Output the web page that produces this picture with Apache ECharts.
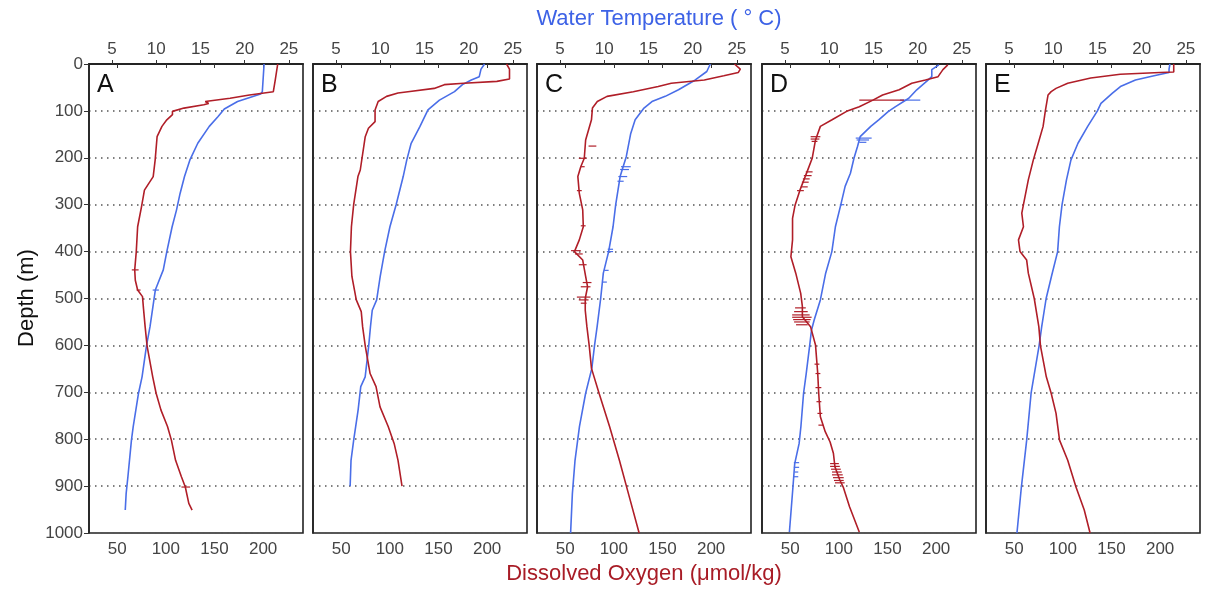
<!DOCTYPE html>
<html>
<head>
<meta charset="utf-8">
<script src="https://cdn.jsdelivr.net/npm/echarts@6/dist/echarts.min.js"></script>
<style>
  html, body { margin: 0; padding: 0; background: #fff; }
  #chart { width: 1208px; height: 593px; }
</style>
</head>
<body>
<div id="chart"></div>
<script>
// panel letters
const panels = ['A', 'B', 'C', 'D', 'E'];
const depthTicks = [0, 100, 200, 300, 400, 500, 600, 700, 800, 900, 1000];
const tempTicks = [5, 10, 15, 20, 25];
const oxyTicks = [50, 100, 150, 200];

// profiles: [value, depth]
const tempA = [[22.2,0],[22.0,59],[21.8,64],[20.5,72],[19.2,80],[17.7,96],[17.0,112],[16.0,133],[14.7,169],[13.8,205],[13.2,240],[12.7,276],[12.3,311],[11.8,347],[11.2,400],[10.8,439],[9.9,482],[9.6,521],[9.3,560],[8.9,601],[8.4,667],[8.0,702],[7.4,773],[7.2,802],[6.8,880],[6.6,916],[6.5,951]];
const oxyA = [[215,0],[212.5,34],[210.5,59],[186,66],[166,73],[140.5,80],[144,84],[139,87],[118.6,94],[106.8,101],[106.8,108],[101,119],[96,133],[91,155],[89,205],[87,240],[78,269],[75,304],[71,347],[69.6,400],[68,439],[68.6,461],[71,482],[76,496],[77,521],[78.7,560],[80.7,601],[86.5,667],[90,702],[95,738],[101.7,773],[105.7,802],[110,845],[116,880],[120,902],[123.6,937],[127,951]];

const tempB = [[21.8,0],[21.4,11],[21.2,27],[20.3,34],[19.3,44],[18.4,59],[16.7,77],[15.4,98],[14.5,133],[13.5,169],[13.0,205],[12.6,240],[11.8,300],[11.1,347],[10.5,400],[10.0,453],[9.6,503],[9.1,525],[8.9,560],[8.7,601],[8.3,667],[7.8,688],[7.5,738],[7.0,802],[6.7,845],[6.6,900]];
const oxyB = [[220,0],[223,11],[223,32],[210,37],[176,41],[156,44],[145.6,52],[118.6,59],[108.4,62],[96.6,69],[88,80],[84.8,98],[84.8,123],[78,137],[74.7,155],[69.6,226],[67.2,240],[62.8,300],[60.5,347],[59.5,400],[61,453],[65.5,503],[70.6,528],[72,560],[74.7,601],[79.7,660],[85.8,688],[89.9,731],[98.3,773],[104.4,809],[108.4,845],[112.5,900]];

const tempC = [[22.0,0],[21.6,16],[20.3,34],[18.4,55],[16.9,69],[15.4,80],[14.5,94],[13.5,119],[13.0,148],[12.5,197],[11.8,240],[11.3,300],[11.0,347],[10.5,400],[9.9,446],[9.6,500],[9.2,560],[8.9,601],[8.6,649],[7.9,702],[7.2,773],[6.7,845],[6.4,916],[6.2,1000]];
const oxyC = [[224,0],[230,11],[228,18],[213,25],[193,34],[159,41],[145.6,48],[120,59],[93,69],[83,80],[78,94],[77,119],[71,162],[69.6,201],[66,219],[63,240],[64.5,276],[68,311],[68.6,347],[64.5,375],[59.5,400],[68,418],[71,453],[73,475],[70.6,500],[70.6,525],[72.3,560],[74.7,601],[77,649],[84.8,702],[95.6,773],[105.7,845],[115,916],[126,1000]];

const tempD = [[22.4,2],[21.6,12],[21.6,27],[21.2,34],[19.9,55],[19.0,73],[17.5,91],[16.7,101],[15.6,119],[14.7,133],[13.5,155],[13.2,176],[12.8,201],[12.4,233],[11.8,261],[11.3,301],[10.7,347],[10.3,400],[9.6,446],[9.0,503],[8.3,546],[8.0,567],[7.8,599],[7.4,660],[7.1,702],[6.8,773],[6.6,809],[6.1,852],[5.9,902],[5.5,998]];
const oxyD = [[212,2],[207,12],[202,27],[189,34],[175,41],[162,55],[145,66],[135,77],[121,91],[108,101],[93,119],[81,133],[76,162],[72.6,201],[67.5,229],[60,269],[55,301],[52.4,329],[52.4,375],[50.7,411],[55.7,446],[60.8,489],[62.5,517],[62.5,539],[70.9,560],[76,599],[78.3,660],[79.3,702],[81,752],[86,784],[91,806],[94.4,830],[96,859],[101,887],[104.5,902],[111,944],[121,998]];

const tempE = [[23.2,0],[23.1,11],[23.1,18],[21.4,25],[19.3,34],[17.6,48],[16.7,62],[15.4,84],[15.0,100],[13.9,133],[12.8,169],[12.0,205],[11.5,247],[11.0,300],[10.7,347],[10.5,400],[9.8,453],[9.2,500],[8.7,560],[8.4,601],[7.5,702],[7.0,802],[6.4,902],[5.9,1000]];
const oxyE = [[214,0],[214,17],[200,18],[159,22],[128.7,30],[105,41],[93,52],[88,59],[84.8,66],[82,100],[79.7,133],[74.7,169],[69.6,205],[64.5,247],[59.5,300],[57.8,318],[59.5,347],[54.4,375],[56,400],[62.8,418],[64.5,446],[70.6,500],[75.3,560],[77,601],[83,667],[88,702],[93,745],[96.6,802],[105,845],[113.5,902],[122,951],[128,1000]];

// error bars: [low, high, depth]
const oxyErrA = [[65,72,439],[70,74,482],[116,125,902]];
const tempErrA = [[9.6,10.3,482]];
const oxyErrC = [[74,82,175],[64,72,201],[66,70,219],[62,67,270],[66,71,345],[56,66,398],[60,68,405],[64,72,428],[68,77,466],[66,76,475],[62,76,497],[64,74,503],[66,72,510]];
const tempErrC = [[11.9,13.0,219],[11.8,12.8,225],[11.6,12.6,240],[11.5,12.2,250],[10.4,11.0,395],[10.3,11.0,400],[10.0,10.5,440],[9.8,10.3,465]];
const oxyErrD = [[121,167,77],[71,81,155],[71,80,160],[72,78,165],[66,73,230],[64,72,238],[63,70,245],[62,69,252],[61,68,262],[57,64,270],[55,66,520],[54,68,528],[52,70,535],[52,72,540],[53,71,545],[54,70,550],[56,68,556],[75,80,640],[76,81,660],[76,82,690],[77,82,720],[78,83,745],[79,84,770],[91,100,852],[91,101,858],[92,102,864],[93,103,870],[93,104,876],[94,105,882],[95,105,888],[96,106,893]];
const tempErrD = [[18.0,20.3,77],[13.0,14.8,158],[13.1,14.5,162],[13.4,14.2,167],[11.2,11.7,300],[6.0,6.6,850],[6.0,6.6,860],[6.1,6.5,870],[6.0,6.5,880]];

const temps = [tempA, tempB, tempC, tempD, tempE];
const oxys = [oxyA, oxyB, oxyC, oxyD, oxyE];
const tempErrs = [tempErrA, [], tempErrC, tempErrD, []];
const oxyErrs = [oxyErrA, [], oxyErrC, oxyErrD, []];

const BLUE = '#4a6ee8';
const RED = '#b01e28';
const panelLeft = [89, 313, 537, 762, 986];
const panelW = 214;

let chart = echarts.init(document.getElementById('chart'));

let grids = [], xAxes = [], yAxes = [], series = [], graphics = [];

function errBars(data, xIdx, yIdx, color) {
  return {
    type: 'custom',
    xAxisIndex: xIdx,
    yAxisIndex: yIdx,
    data: data,
    encode: { x: [0, 1], y: 2 },
    renderItem: function (params, api) {
      let p1 = api.coord([api.value(0), api.value(2)]);
      let p2 = api.coord([api.value(1), api.value(2)]);
      return {
        type: 'line',
        shape: { x1: p1[0], y1: p1[1], x2: p2[0], y2: p2[1] },
        style: { stroke: color, lineWidth: 1.2 }
      };
    },
    z: 3
  };
}

panels.forEach((name, i) => {
  grids.push({
    left: panelLeft[i], top: 64, width: panelW, height: 469,
    show: true, borderColor: '#222', borderWidth: 1.6, backgroundColor: '#fff'
  });
  // oxygen (bottom)
  xAxes.push({
    type: 'value', gridIndex: i, position: 'bottom', min: 21, max: 241,
    axisLine: { show: true, lineStyle: { color: '#222', width: 1.6 } },
    axisTick: { show: true, length: 4, customValues: oxyTicks, lineStyle: { color: '#333' } },
    axisLabel: { customValues: oxyTicks, color: '#444', fontSize: 17, margin: 8, fontFamily: 'Liberation Sans' },
    splitLine: { show: false }
  });
  // temperature (top)
  xAxes.push({
    type: 'value', gridIndex: i, position: 'top', min: 2.4, max: 26.6,
    axisLine: { show: true, lineStyle: { color: '#222', width: 1.6 } },
    axisTick: { show: true, length: 4, customValues: tempTicks, lineStyle: { color: '#333' } },
    axisLabel: { customValues: tempTicks, color: '#444', fontSize: 17, margin: 6, fontFamily: 'Liberation Sans' },
    splitLine: { show: false }
  });
  yAxes.push({
    type: 'value', gridIndex: i, min: 0, max: 1000, interval: 100, inverse: true,
    axisLine: { show: true, lineStyle: { color: '#222', width: 1.6 } },
    axisTick: { show: i === 0, length: 5, lineStyle: { color: '#333' } },
    axisLabel: { show: i === 0, color: '#444', fontSize: 17, margin: 6, fontFamily: 'Liberation Sans',
      formatter: v => String(v) },
    splitLine: { show: true, lineStyle: { color: '#555', width: 1.5, type: [1.5, 4.5] } }
  });

  series.push({
    type: 'line', xAxisIndex: 2 * i + 1, yAxisIndex: i, data: temps[i],
    showSymbol: false, lineStyle: { color: BLUE, width: 1.6 }, z: 2
  });
  series.push({
    type: 'line', xAxisIndex: 2 * i, yAxisIndex: i, data: oxys[i],
    showSymbol: false, lineStyle: { color: RED, width: 1.6 }, z: 2
  });
  if (tempErrs[i].length) series.push(errBars(tempErrs[i], 2 * i + 1, i, BLUE));
  if (oxyErrs[i].length) series.push(errBars(oxyErrs[i], 2 * i, i, RED));

  graphics.push({
    type: 'text', left: panelLeft[i] + 8, top: 73, z: 10,
    style: { text: name, fill: '#111', font: '25px "Liberation Sans"' }
  });
});

graphics.push({
  type: 'text', x: 659, y: 19, z: 10,
  style: { text: 'Water Temperature ( ° C)', fill: '#3d62e6', font: '22px "Liberation Sans"', align: 'center', verticalAlign: 'middle' }
});
graphics.push({
  type: 'text', x: 644, y: 574, z: 10,
  style: { text: 'Dissolved Oxygen (μmol/kg)', fill: '#a81c26', font: '22px "Liberation Sans"', align: 'center', verticalAlign: 'middle' }
});
graphics.push({
  type: 'text', x: 27, y: 298, rotation: Math.PI / 2, z: 10,
  style: { text: 'Depth (m)', fill: '#111', font: '22px "Liberation Sans"', align: 'center', verticalAlign: 'middle' }
});

chart.setOption({
  animation: false,
  backgroundColor: '#fff',
  grid: grids,
  xAxis: xAxes,
  yAxis: yAxes,
  series: series,
  graphic: graphics
});
</script>
</body>
</html>
